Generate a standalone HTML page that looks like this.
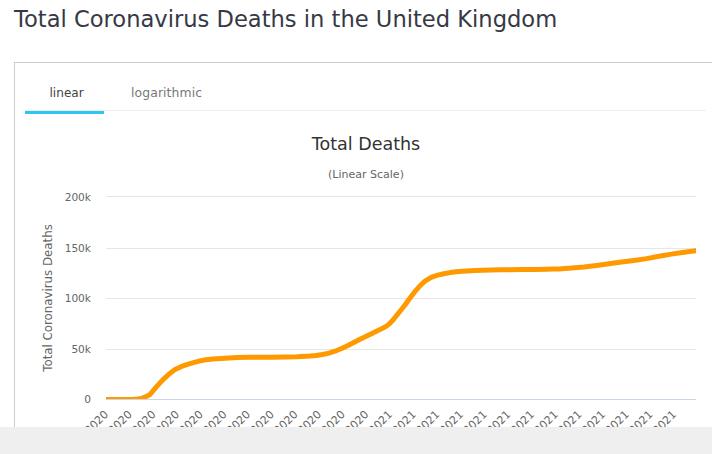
<!DOCTYPE html>
<html lang="en"><head><meta charset="utf-8"><title>Total Coronavirus Deaths in the United Kingdom</title>
<style>
html,body{margin:0;padding:0;background:#fff;overflow:hidden}
body{width:712px;height:454px;position:relative;font-family:"DejaVu Sans","Liberation Sans",sans-serif;color:#363636}
h3{position:absolute;left:14px;top:4px;margin:0;font-weight:normal;font-size:22.6px;line-height:30px;white-space:nowrap;color:#363945}
.panel{position:absolute;left:14px;top:62px;width:720px;height:400px;border:1px solid #ccc;box-sizing:border-box;background:#fff}
.tabs{position:absolute;left:25px;top:72px;width:681px;height:38px;border-bottom:1px solid #eee;margin:0;padding:0;list-style:none}
.tabs li{position:absolute;top:0;height:38px;line-height:42px;font-size:12.1px;white-space:nowrap}
.tabs li.on{left:0;width:79px;text-indent:24.5px;color:#444;border-bottom:3px solid #2cc6f4;height:39px}
.tabs li.off{left:106px;color:#777;font-size:12.4px;letter-spacing:.1px}
svg{position:absolute;left:0;top:0}
svg text{font-family:"DejaVu Sans","Liberation Sans",sans-serif}
.foot{position:absolute;left:0;top:427px;width:712px;height:27px;background:#efefef}
</style></head><body>
<h3>Total Coronavirus Deaths in the United Kingdom</h3>
<div class="panel"></div>
<ul class="tabs"><li class="on">linear</li><li class="off">logarithmic</li></ul>
<svg width="712" height="454" viewBox="0 0 712 454">
<defs><clipPath id="pc"><rect x="106" y="190" width="590" height="209"/></clipPath></defs>
<text x="366" y="150.2" text-anchor="middle" font-size="17.5" fill="#333333">Total Deaths</text>
<text x="366" y="177.8" text-anchor="middle" font-size="11" fill="#666666">(Linear Scale)</text>
<rect x="106" y="196" width="590" height="1" fill="#e6e6e6"/><rect x="106" y="248" width="590" height="1" fill="#e6e6e6"/><rect x="106" y="298" width="590" height="1" fill="#e6e6e6"/><rect x="106" y="349" width="590" height="1" fill="#e6e6e6"/>
<rect x="106" y="399" width="590" height="1" fill="#ccd6eb"/>
<g font-size="10.6" fill="#666666"><text x="91" y="200.5" text-anchor="end">200k</text><text x="91" y="251.5" text-anchor="end">150k</text><text x="91" y="301.5" text-anchor="end">100k</text><text x="91" y="352.7" text-anchor="end">50k</text><text x="91" y="402.8" text-anchor="end">0</text></g>
<text x="51.5" y="298" text-anchor="middle" font-size="11.8" fill="#666666" transform="rotate(-90 51.5 298)">Total Coronavirus Deaths</text>
<g font-size="11" fill="#666666">
<text x="109.00" y="415.0" text-anchor="end" transform="rotate(-45 109.00 415.0)">Feb 15, 2020</text>
<text x="132.67" y="415.0" text-anchor="end" transform="rotate(-45 132.67 415.0)">Mar 13, 2020</text>
<text x="156.33" y="415.0" text-anchor="end" transform="rotate(-45 156.33 415.0)">Apr 09, 2020</text>
<text x="180.00" y="415.0" text-anchor="end" transform="rotate(-45 180.00 415.0)">May 06, 2020</text>
<text x="203.67" y="415.0" text-anchor="end" transform="rotate(-45 203.67 415.0)">Jun 02, 2020</text>
<text x="227.34" y="415.0" text-anchor="end" transform="rotate(-45 227.34 415.0)">Jun 29, 2020</text>
<text x="251.00" y="415.0" text-anchor="end" transform="rotate(-45 251.00 415.0)">Jul 26, 2020</text>
<text x="274.67" y="415.0" text-anchor="end" transform="rotate(-45 274.67 415.0)">Aug 22, 2020</text>
<text x="298.34" y="415.0" text-anchor="end" transform="rotate(-45 298.34 415.0)">Sep 18, 2020</text>
<text x="322.00" y="415.0" text-anchor="end" transform="rotate(-45 322.00 415.0)">Oct 15, 2020</text>
<text x="345.67" y="415.0" text-anchor="end" transform="rotate(-45 345.67 415.0)">Nov 11, 2020</text>
<text x="369.34" y="415.0" text-anchor="end" transform="rotate(-45 369.34 415.0)">Dec 08, 2020</text>
<text x="393.00" y="415.0" text-anchor="end" transform="rotate(-45 393.00 415.0)">Jan 04, 2021</text>
<text x="416.67" y="415.0" text-anchor="end" transform="rotate(-45 416.67 415.0)">Jan 31, 2021</text>
<text x="440.34" y="415.0" text-anchor="end" transform="rotate(-45 440.34 415.0)">Feb 27, 2021</text>
<text x="464.00" y="415.0" text-anchor="end" transform="rotate(-45 464.00 415.0)">Mar 26, 2021</text>
<text x="487.67" y="415.0" text-anchor="end" transform="rotate(-45 487.67 415.0)">Apr 22, 2021</text>
<text x="511.34" y="415.0" text-anchor="end" transform="rotate(-45 511.34 415.0)">May 19, 2021</text>
<text x="535.01" y="415.0" text-anchor="end" transform="rotate(-45 535.01 415.0)">Jun 15, 2021</text>
<text x="558.67" y="415.0" text-anchor="end" transform="rotate(-45 558.67 415.0)">Jul 12, 2021</text>
<text x="582.34" y="415.0" text-anchor="end" transform="rotate(-45 582.34 415.0)">Aug 08, 2021</text>
<text x="606.01" y="415.0" text-anchor="end" transform="rotate(-45 606.01 415.0)">Sep 04, 2021</text>
<text x="629.67" y="415.0" text-anchor="end" transform="rotate(-45 629.67 415.0)">Oct 01, 2021</text>
<text x="653.34" y="415.0" text-anchor="end" transform="rotate(-45 653.34 415.0)">Oct 28, 2021</text>
<text x="677.01" y="415.0" text-anchor="end" transform="rotate(-45 677.01 415.0)">Nov 24, 2021</text>
</g>
<g clip-path="url(#pc)"><path d="M104.0 399.4 L120.0 399.4 L132.0 399.4 L137.5 399.0 L141.5 398.4 L145.0 397.2 L150.0 394.5 L153.0 390.9 L156.2 387.1 L162.5 380.1 L168.8 374.3 L175.0 369.6 L181.0 366.7 L187.5 364.4 L193.5 362.6 L200.0 360.9 L206.0 359.8 L212.5 359.1 L225.0 358.2 L237.0 357.6 L250.0 357.2 L260.0 357.3 L272.5 357.3 L285.0 357.1 L297.0 356.8 L310.0 356.1 L316.0 355.5 L322.5 354.5 L329.0 353.1 L335.0 351.2 L341.0 348.8 L347.5 345.8 L360.0 339.2 L372.5 333.2 L380.0 329.6 L385.0 327.0 L388.0 325.0 L390.0 323.2 L392.5 320.6 L395.0 317.5 L400.0 311.2 L405.0 305.0 L410.0 298.0 L415.0 291.4 L420.0 285.8 L425.0 281.1 L431.2 277.3 L437.5 275.1 L443.8 273.8 L450.0 272.6 L456.0 271.8 L462.5 271.2 L475.0 270.6 L500.0 269.8 L525.0 269.4 L534.0 269.4 L546.5 269.2 L553.0 269.1 L559.0 268.9 L565.0 268.4 L571.5 268.0 L584.0 266.9 L596.5 265.4 L609.0 263.8 L621.5 262.0 L634.0 260.4 L646.5 258.6 L659.0 256.3 L671.5 254.1 L684.0 252.3 L698.0 250.4" fill="none" stroke="#ff9900" stroke-width="5" stroke-linejoin="round" stroke-linecap="round"/></g>
</svg>
<div class="foot"></div>
</body></html>
